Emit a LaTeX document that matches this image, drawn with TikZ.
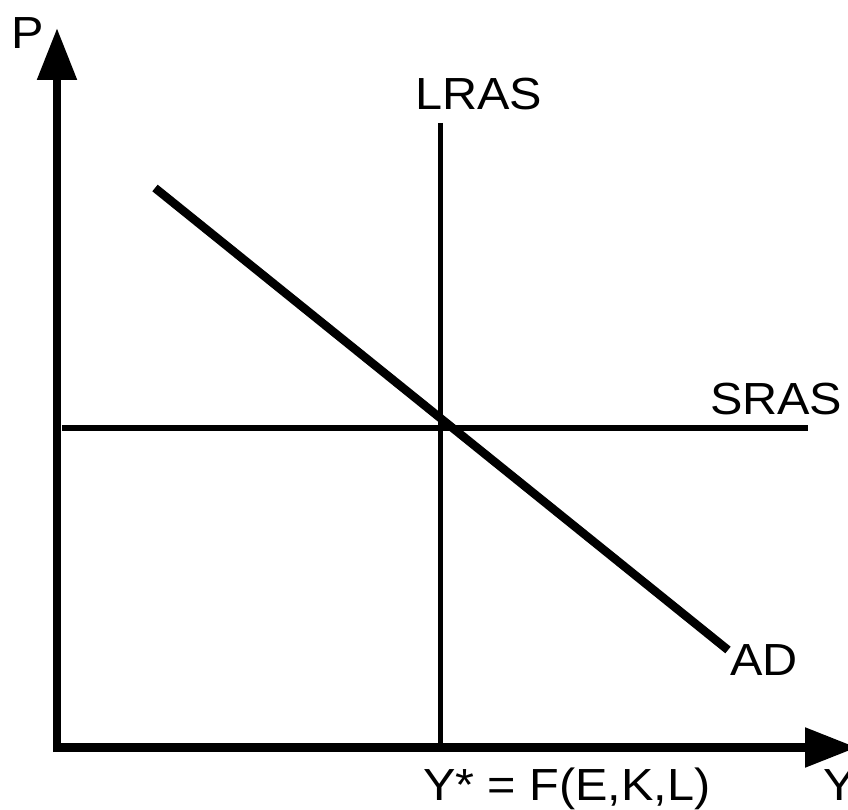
\documentclass[tikz,border=0pt]{standalone}
\usepackage{fontspec}
\setmainfont[FakeStretch=1.08]{Liberation Sans}
\usetikzlibrary{arrows.meta}

\begin{document}
\begin{tikzpicture}[
    x=1pt, y=1pt,
    axis/.style={line width=8.5pt, -{Triangle[length=52pt, width=38pt]}},
    schedule/.style={line width=5.5pt},
    demand/.style={line width=8.5pt},
    lbl/.style={anchor=base west, inner sep=0pt, outer sep=0pt, font=\fontsize{45}{54}\selectfont}
  ]
    \useasboundingbox (0,0) rectangle (848,809);
    \clip (0,0) rectangle (848,809);

    % axes
    \coordinate (pbase) at (57,57);
    \coordinate (ptip) at (57,781);
    \coordinate (ybase) at (53,61.5);
    \coordinate (ytip) at (857,61.5);
    \draw[axis] (pbase) -- (ptip);
    \draw[axis] (ybase) -- (ytip);

    % curves
    \coordinate (lrastop) at (440.5,686);
    \coordinate (lrasbot) at (440.5,61.5);
    \coordinate (srasleft) at (62,381);
    \coordinate (srasright) at (808,381);
    \coordinate (adtop) at (155,621);
    \coordinate (adbot) at (728,159);
    \draw[schedule] (lrastop) -- (lrasbot);
    \draw[schedule] (srasleft) -- (srasright);
    \draw[demand] (adtop) -- (adbot);

    % labels
    \node[lbl] (plabel) at (12,760) {P};
    \node[lbl] (lraslabel) at (415,699) {LRAS};
    \node[lbl] (sraslabel) at (710,394) {SRAS};
    \node[lbl] (adlabel) at (730,134) {AD};
    \node[lbl] (ystarlabel) at (423,9) {Y* = F(E,K,L)};
    \node[lbl] (ylabel) at (823,9) {Y};
  \end{tikzpicture}
\end{document}
